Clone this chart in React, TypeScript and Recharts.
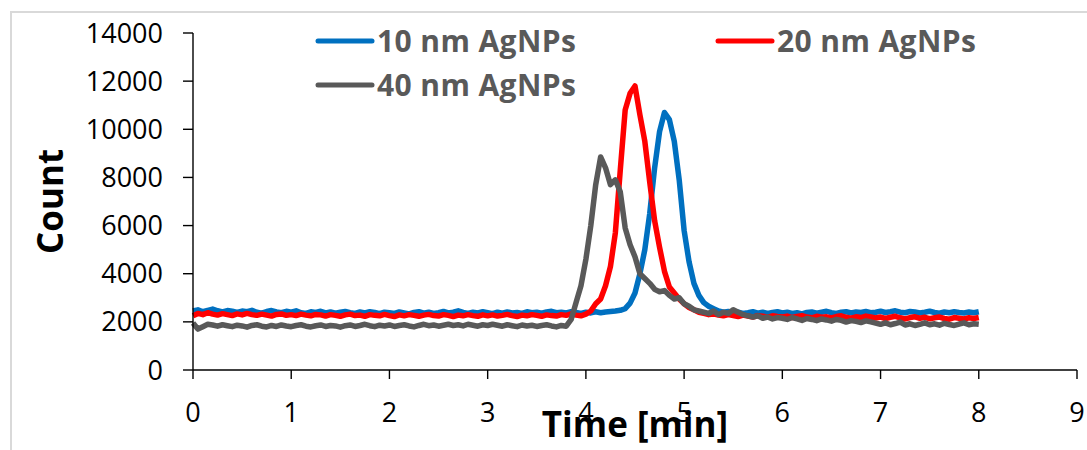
import { LineChart, Line, XAxis, YAxis, Legend, Label } from 'recharts'

// time axis (min), one reading every 0.05 min
const TIME = [
  0, 0.05, 0.1, 0.15, 0.2, 0.25, 0.3, 0.35, 0.4, 0.45, 0.5, 0.55, 0.6, 0.65, 0.7, 0.75, 0.8, 0.85, 0.9, 0.95,
  1, 1.05, 1.1, 1.15, 1.2, 1.25, 1.3, 1.35, 1.4, 1.45, 1.5, 1.55, 1.6, 1.65, 1.7, 1.75, 1.8, 1.85, 1.9, 1.95,
  2, 2.05, 2.1, 2.15, 2.2, 2.25, 2.3, 2.35, 2.4, 2.45, 2.5, 2.55, 2.6, 2.65, 2.7, 2.75, 2.8, 2.85, 2.9, 2.95,
  3, 3.05, 3.1, 3.15, 3.2, 3.25, 3.3, 3.35, 3.4, 3.45, 3.5, 3.55, 3.6, 3.65, 3.7, 3.75, 3.8, 3.85, 3.9, 3.95,
  4, 4.05, 4.1, 4.15, 4.2, 4.25, 4.3, 4.35, 4.4, 4.45, 4.5, 4.55, 4.6, 4.65, 4.7, 4.75, 4.8, 4.85, 4.9, 4.95,
  5, 5.05, 5.1, 5.15, 5.2, 5.25, 5.3, 5.35, 5.4, 5.45, 5.5, 5.55, 5.6, 5.65, 5.7, 5.75, 5.8, 5.85, 5.9, 5.95,
  6, 6.05, 6.1, 6.15, 6.2, 6.25, 6.3, 6.35, 6.4, 6.45, 6.5, 6.55, 6.6, 6.65, 6.7, 6.75, 6.8, 6.85, 6.9, 6.95,
  7, 7.05, 7.1, 7.15, 7.2, 7.25, 7.3, 7.35, 7.4, 7.45, 7.5, 7.55, 7.6, 7.65, 7.7, 7.75, 7.8, 7.85, 7.9, 7.95, 8,
]

const NM10 = [
  2450, 2500, 2420, 2480, 2530, 2460, 2410, 2470, 2440, 2390, 2450, 2420, 2480, 2400, 2360, 2430, 2470, 2410, 2380, 2440,
  2400, 2460, 2380, 2350, 2420, 2390, 2440, 2370, 2410, 2360, 2400, 2430, 2380, 2350, 2410, 2370, 2420, 2390, 2340, 2400,
  2380, 2350, 2410, 2370, 2330, 2390, 2420, 2360, 2400, 2350, 2380, 2430, 2370, 2400, 2460, 2390, 2350, 2400, 2370, 2420,
  2380, 2340, 2400, 2360, 2410, 2370, 2390, 2350, 2420, 2380, 2400, 2360, 2410, 2440, 2380, 2400, 2370, 2420, 2390, 2350,
  2400, 2370, 2420, 2380, 2410, 2430, 2450, 2480, 2550, 2780, 3200, 4000, 5000, 6500, 8400, 9900, 10700, 10400, 9500, 7900,
  5800, 4500, 3600, 3100, 2800, 2650, 2550, 2450, 2400, 2430, 2370, 2400, 2350, 2380, 2420, 2360, 2400, 2350, 2390, 2420,
  2370, 2400, 2350, 2380, 2330, 2390, 2410, 2360, 2400, 2440, 2380, 2350, 2400, 2420, 2370, 2410, 2390, 2430, 2380, 2400,
  2440, 2390, 2420, 2460, 2400, 2380, 2430, 2410, 2370, 2400, 2440, 2390, 2360, 2410, 2380, 2420, 2390, 2370, 2410, 2380, 2420,
]

const NM20 = [
  2250, 2350, 2300, 2380, 2320, 2280, 2340, 2300, 2260, 2330, 2290, 2350, 2300, 2270, 2320, 2280, 2240, 2310, 2330, 2270,
  2300, 2260, 2320, 2280, 2250, 2310, 2290, 2240, 2300, 2270, 2230, 2290, 2320, 2260, 2280, 2230, 2300, 2270, 2250, 2310,
  2260, 2220, 2290, 2250, 2300, 2270, 2230, 2280, 2310, 2260, 2240, 2300, 2270, 2220, 2280, 2250, 2300, 2260, 2230, 2290,
  2250, 2290, 2240, 2270, 2310, 2260, 2220, 2280, 2250, 2300, 2270, 2230, 2290, 2260, 2240, 2300, 2270, 2330, 2280, 2250,
  2320, 2450, 2750, 2950, 3500, 4300, 5700, 8300, 10800, 11500, 11800, 10600, 9500, 7800, 6200, 5100, 4100, 3450, 3200, 2950,
  2750, 2600, 2500, 2400, 2350, 2300, 2330, 2280, 2250, 2300, 2260, 2220, 2280, 2240, 2200, 2260, 2230, 2190, 2250, 2220,
  2200, 2240, 2180, 2220, 2260, 2200, 2170, 2230, 2190, 2210, 2160, 2220, 2250, 2190, 2150, 2210, 2180, 2240, 2200, 2160,
  2200, 2140, 2190, 2230, 2170, 2120, 2180, 2210, 2150, 2190, 2130, 2170, 2200, 2140, 2110, 2180, 2150, 2120, 2170, 2140, 2180,
]

const NM40 = [
  1950, 1700, 1800, 1900, 1870, 1820, 1880, 1840, 1800, 1860, 1830, 1780, 1850, 1880, 1820, 1790, 1850, 1810, 1870, 1830,
  1800, 1850, 1880, 1820, 1790, 1840, 1870, 1810, 1850, 1830, 1780, 1840, 1870, 1810, 1850, 1900, 1840, 1800, 1860, 1830,
  1870, 1810, 1850, 1880, 1830, 1790, 1850, 1900, 1840, 1870, 1820, 1860, 1900, 1850, 1880, 1830, 1900, 1860, 1820, 1880,
  1850, 1900, 1860, 1820, 1880, 1840, 1800, 1870, 1830, 1860, 1810, 1850, 1880, 1830, 1790, 1850, 1820, 2100, 2800, 3500,
  4600, 6000, 7700, 8850, 8400, 7700, 7900, 7400, 5900, 5200, 4700, 4000, 3800, 3600, 3350, 3250, 3300, 3100, 2950, 3000,
  2750, 2650, 2500, 2450, 2400, 2350, 2450, 2300, 2400, 2350, 2500, 2400, 2300, 2250, 2200, 2250, 2150, 2200, 2120, 2180,
  2150, 2100, 2180, 2120, 2060, 2140, 2100, 2050, 2120, 2080, 2030, 2100, 2060, 1990, 2050, 2020, 1970, 2040, 2000, 1950,
  1900, 1960, 1880, 1930, 1990, 1870, 1920, 1850, 1900, 1960, 1880, 1920, 1860, 1940, 1890, 1850, 1910, 1960, 1880, 1920, 1900,
]

const X_TICKS = [0, 1, 2, 3, 4, 5, 6, 7, 8, 9]
const Y_TICKS = [0, 2000, 4000, 6000, 8000, 10000, 12000, 14000]

const SERIES = [
  { key: 'nm10', name: '10 nm AgNPs', color: '#0070C0' },
  { key: 'nm20', name: '20 nm AgNPs', color: '#FF0000' },
  { key: 'nm40', name: '40 nm AgNPs', color: '#595959' },
]

const FONT = "'Open Sans', sans-serif"

const data = TIME.map((t, i) => ({ t, nm10: NM10[i], nm20: NM20[i], nm40: NM40[i] }))

// legend sits inside the plot, two rows, third entry under the first
const LEGEND_POS = [
  { x: 318, y: 41 },
  { x: 718, y: 41 },
  { x: 318, y: 85 },
]

function ChartLegend() {
  return (
    <svg width={1087} height={1} style={{ position: 'absolute', left: 0, top: 0, overflow: 'visible' }}>
      {SERIES.map((s, i) => {
        const p = LEGEND_POS[i]
        return (
          <g key={s.key}>
            <line x1={p.x} x2={p.x + 54} y1={p.y} y2={p.y} stroke={s.color} strokeWidth={5} strokeLinecap="round" />
            <text x={p.x + 59} y={p.y + 11} fontFamily={FONT} fontWeight={700} fontSize={30} letterSpacing={0.4} fill="#595959">
              {s.name}
            </text>
          </g>
        )
      })}
    </svg>
  )
}

export default function App() {
  return (
    <div style={{ position: 'absolute', left: 0, top: 0, width: 1087, height: 450, overflow: 'hidden', background: '#fff' }}>
      <div style={{ position: 'absolute', left: 10, top: 11, width: 1200, height: 500, borderLeft: '2px solid #d9d9d9', borderTop: '2px solid #d9d9d9' }} />
      <LineChart width={1087} height={450} data={data} margin={{ top: 33, right: 10, bottom: 0, left: 0 }}>
        <XAxis
          dataKey="t"
          type="number"
          domain={[0, 9]}
          ticks={X_TICKS}
          interval={0}
          height={80}
          tickSize={9}
          tickMargin={24}
          axisLine={{ stroke: '#000', strokeWidth: 1.4 }}
          tickLine={{ stroke: '#000', strokeWidth: 1.4 }}
          tick={{ fontSize: 27, fontFamily: FONT, fill: '#000' }}
        >
          <Label
            content={(props: any) => {
              const vb = props.viewBox
              return (
                <text x={vb.x + vb.width / 2} y={vb.y + 67} textAnchor="middle" fontFamily={FONT} fontWeight={700} fontSize={35} fill="#000">
                  Time [min]
                </text>
              )
            }}
          />
        </XAxis>
        <YAxis
          type="number"
          domain={[0, 14000]}
          ticks={Y_TICKS}
          interval={0}
          width={193}
          tickSize={10}
          tickMargin={20}
          axisLine={{ stroke: '#000', strokeWidth: 1.4 }}
          tickLine={{ stroke: '#000', strokeWidth: 1.4 }}
          tick={{ fontSize: 27, fontFamily: FONT, fill: '#000' }}
        >
          <Label
            content={(props: any) => {
              const vb = props.viewBox
              const cx = 63
              const cy = vb.y + vb.height / 2
              return (
                <text x={cx} y={cy} transform={`rotate(-90, ${cx}, ${cy})`} textAnchor="middle" fontFamily={FONT} fontWeight={700} fontSize={35} fill="#000">
                  Count
                </text>
              )
            }}
          />
        </YAxis>
        <Legend content={() => <ChartLegend />} wrapperStyle={{ position: 'absolute', left: 0, top: 0, width: 1087, height: 0 }} />
        {SERIES.map((s) => (
          <Line
            key={s.key}
            dataKey={s.key}
            name={s.name}
            type="linear"
            stroke={s.color}
            strokeWidth={5.5}
            strokeLinejoin="round"
            dot={false}
            isAnimationActive={false}
          />
        ))}
      </LineChart>
    </div>
  )
}
